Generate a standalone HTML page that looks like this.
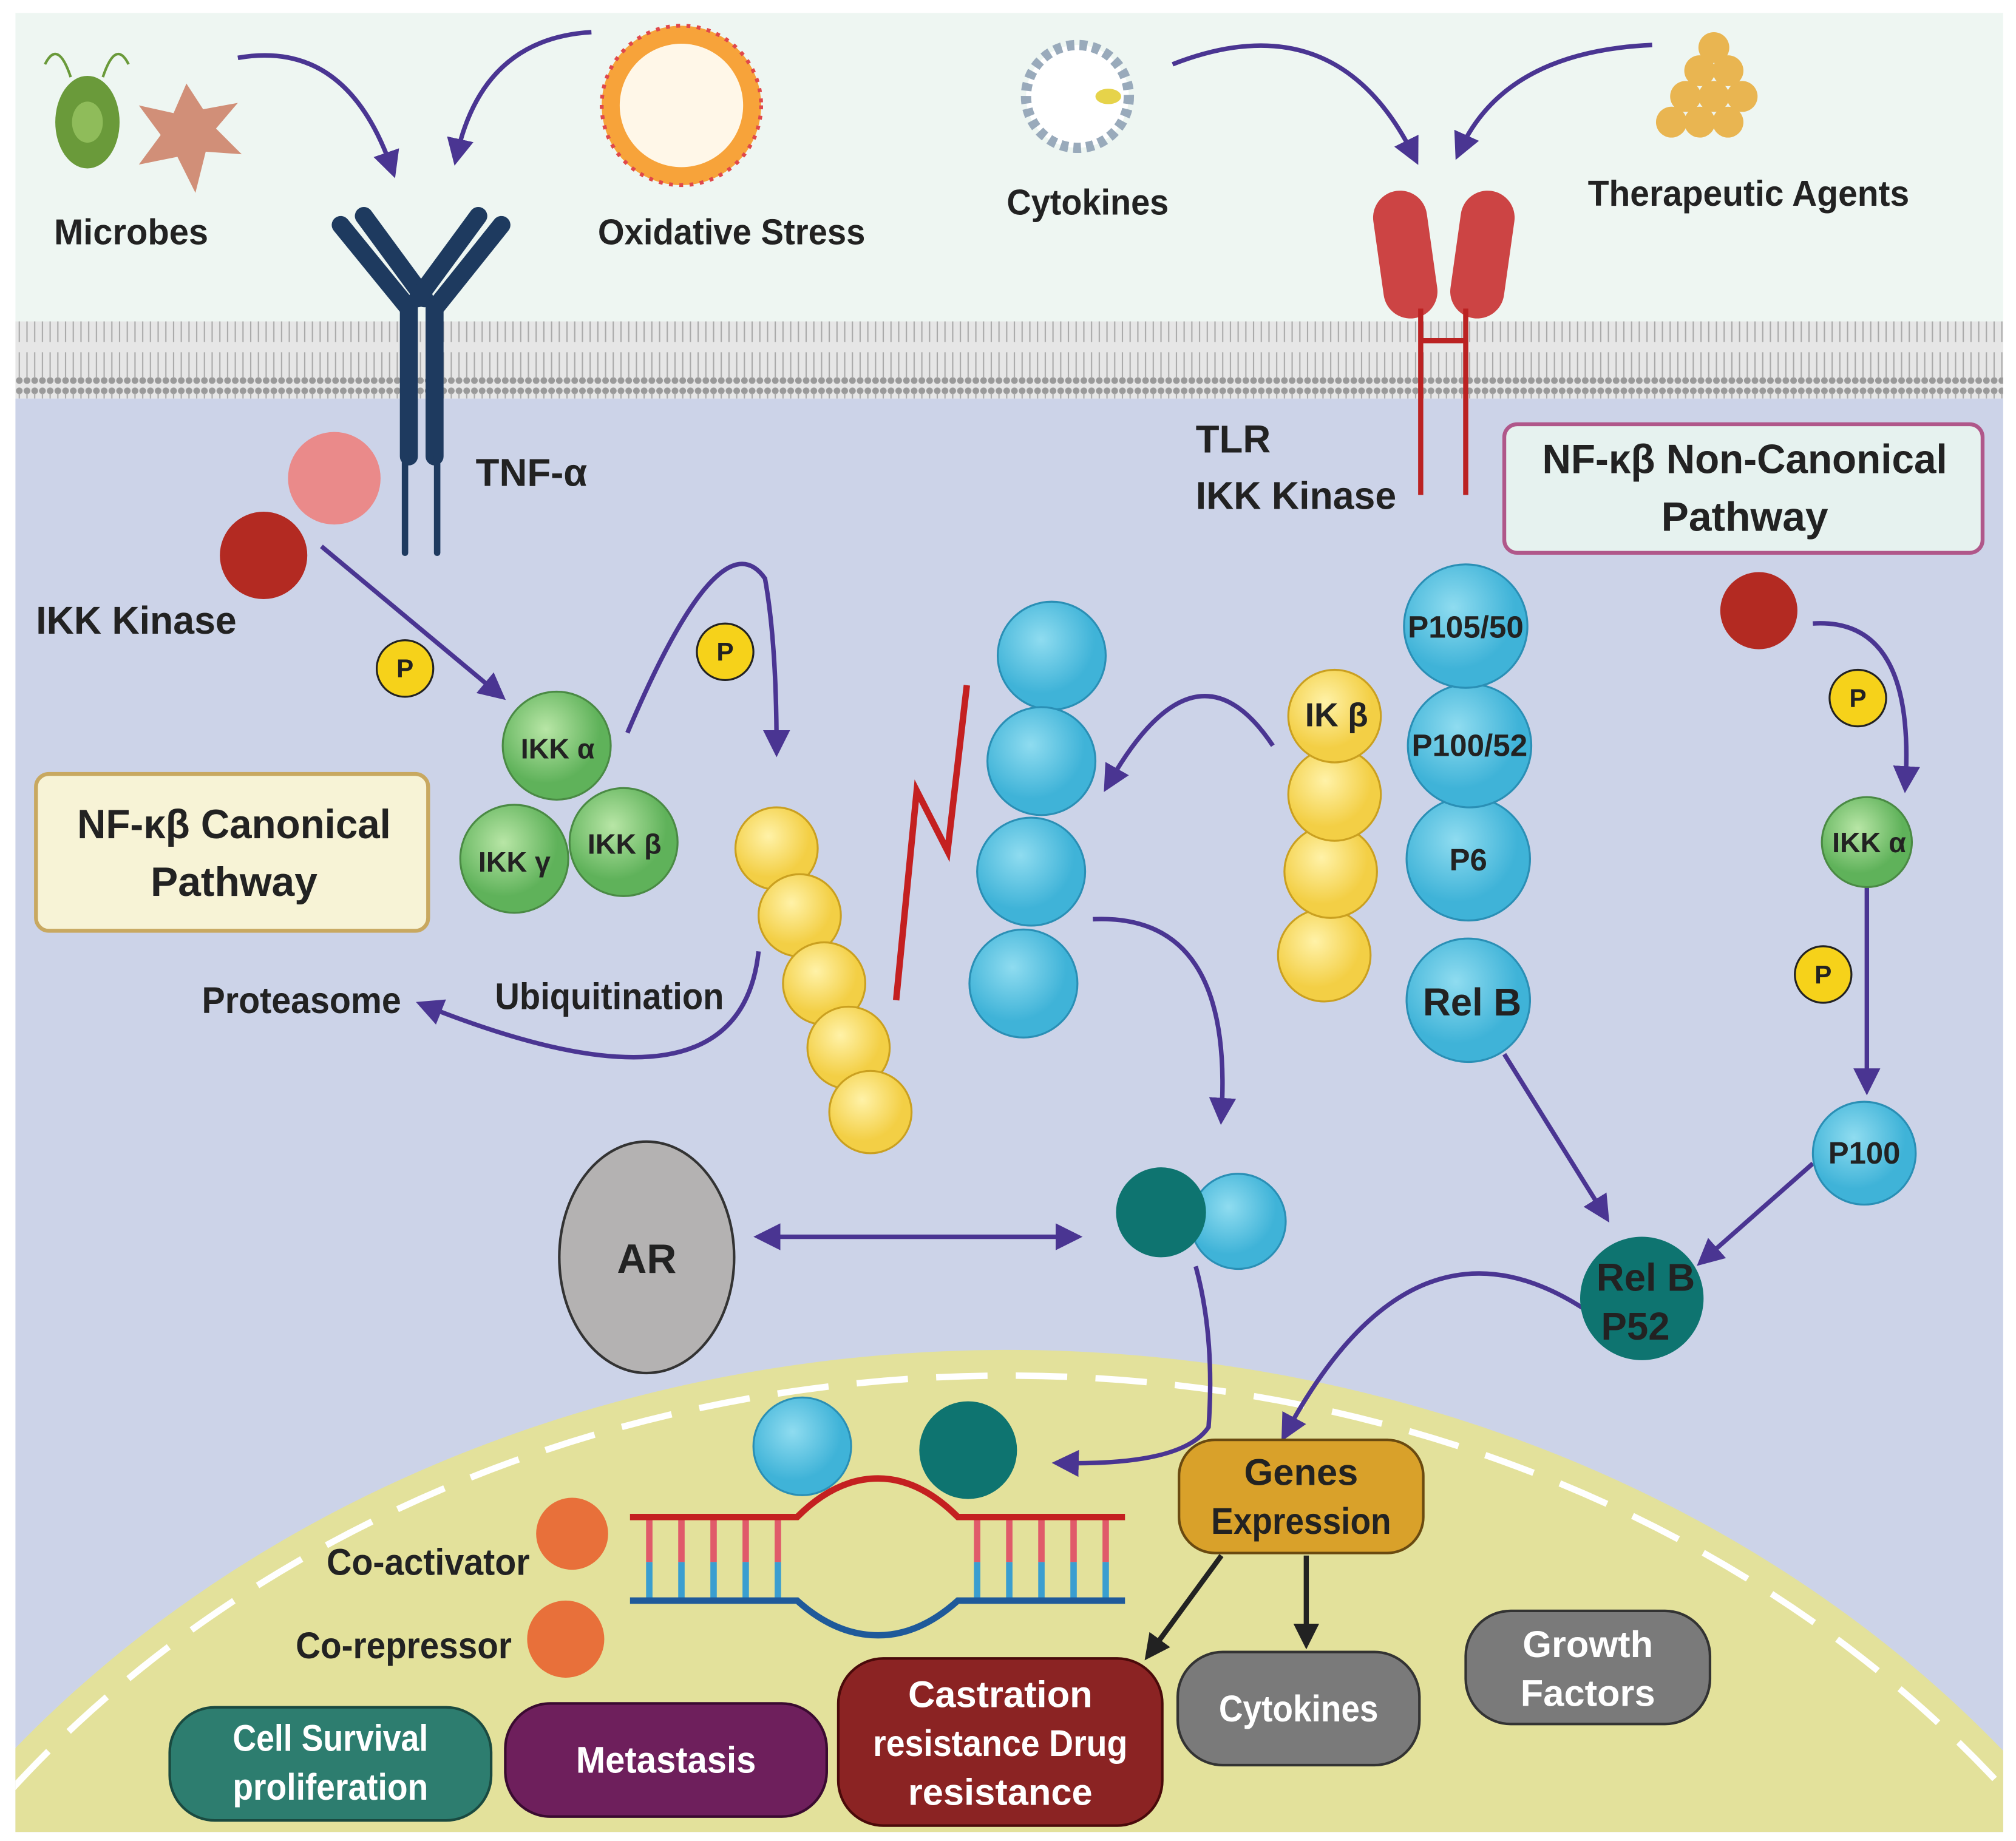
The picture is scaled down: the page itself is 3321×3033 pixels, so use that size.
<!DOCTYPE html>
<html><head><meta charset="utf-8"><style>
html,body{margin:0;padding:0;background:#fff;width:3321px;height:3033px;overflow:hidden}
svg{display:block}
text{font-family:"Liberation Sans Narrow","Liberation Sans",sans-serif;font-weight:bold;fill:#222}
</style></head><body>
<svg width="3321" height="3033" viewBox="0 0 1568 1432" preserveAspectRatio="none" xmlns="http://www.w3.org/2000/svg">
<defs>
<marker id="a" markerWidth="6" markerHeight="6" refX="4" refY="3" orient="auto" markerUnits="strokeWidth"><path d="M0,0 L6,3 L0,6 Z" fill="#4a3592"/></marker>
<marker id="b" markerWidth="5" markerHeight="5" refX="3" refY="2.5" orient="auto" markerUnits="strokeWidth"><path d="M0,0 L5,2.5 L0,5 Z" fill="#222"/></marker>
<marker id="s" markerWidth="6" markerHeight="6" refX="2" refY="3" orient="auto-start-reverse" markerUnits="strokeWidth"><path d="M0,0 L6,3 L0,6 Z" fill="#4a3592"/></marker>
<radialGradient id="gb" cx="40%" cy="35%"><stop offset="0" stop-color="#8fdcf0"/><stop offset="1" stop-color="#3fb3d8"/></radialGradient>
<radialGradient id="gy" cx="40%" cy="35%"><stop offset="0" stop-color="#fff2a8"/><stop offset="1" stop-color="#f3cf45"/></radialGradient>
<radialGradient id="gg" cx="40%" cy="35%"><stop offset="0" stop-color="#b8e6a6"/><stop offset="1" stop-color="#5fb25a"/></radialGradient>
<pattern id="mem" width="6" height="60" patternUnits="userSpaceOnUse"><rect width="6" height="60" fill="#e6e6e6"/><circle cx="3" cy="4" r="2.6" fill="#9a9a9a"/><line x1="3" y1="6" x2="3" y2="26" stroke="#aaa" stroke-width="1"/><circle cx="3" cy="56" r="2.6" fill="#9a9a9a"/><line x1="3" y1="34" x2="3" y2="54" stroke="#aaa" stroke-width="1"/></pattern>
</defs>
<rect x="0" y="0" width="1568" height="1432" fill="#fff"/>
<rect x="12" y="10" width="1546" height="245" fill="#eef6f2"/>
<rect x="12" y="250" width="1546" height="60" fill="url(#mem)"/>
<rect x="12" y="310" width="1546" height="1115" fill="#ccd3e8"/>
<clipPath id="c"><rect x="12" y="310" width="1546" height="1115"/></clipPath>
<g clip-path="url(#c)">
<ellipse cx="784" cy="1900" rx="1000" ry="850" fill="#e3e19b"/>
<ellipse cx="784" cy="1900" rx="980" ry="830" fill="none" stroke="#fff" stroke-width="5" stroke-dasharray="40 22"/>
</g>
<ellipse cx="68" cy="95" rx="25" ry="36" fill="#6a9a3a"/><ellipse cx="68" cy="95" rx="12" ry="16" fill="#8fbc5a"/>
<path d="M55,60 Q45,30 35,50 M80,60 Q90,30 100,50" stroke="#6a9a3a" stroke-width="2" fill="none"/>
<path d="M145,65 L158,85 L185,80 L168,100 L188,120 L160,118 L152,150 L138,122 L108,128 L125,105 L108,82 L135,88 Z" fill="#d18f78"/>
<text x="42" y="190" font-size="28" textLength="120" lengthAdjust="spacingAndGlyphs">Microbes</text>
<circle cx="530" cy="82" r="62" fill="#f7a33a"/><circle cx="530" cy="82" r="48" fill="#fff7e8"/>
<circle cx="530" cy="82" r="62" fill="none" stroke="#e0484a" stroke-width="3" stroke-dasharray="3 5"/>
<text x="465" y="190" font-size="28" textLength="208" lengthAdjust="spacingAndGlyphs">Oxidative Stress</text>
<circle cx="838" cy="75" r="40" fill="#fff" stroke="#9ab" stroke-width="8" stroke-dasharray="6 4"/>
<ellipse cx="862" cy="75" rx="10" ry="6" fill="#e6d34a"/>
<text x="783" y="167" font-size="28" textLength="126" lengthAdjust="spacingAndGlyphs">Cytokines</text>
<g fill="#e9b551"><circle cx="1300" cy="95" r="12"/><circle cx="1322" cy="95" r="12"/><circle cx="1344" cy="95" r="12"/><circle cx="1311" cy="75" r="12"/><circle cx="1333" cy="75" r="12"/><circle cx="1355" cy="75" r="12"/><circle cx="1322" cy="55" r="12"/><circle cx="1344" cy="55" r="12"/><circle cx="1333" cy="37" r="12"/></g>
<text x="1235" y="160" font-size="28" textLength="250" lengthAdjust="spacingAndGlyphs">Therapeutic Agents</text>
<g stroke="#4a3592" stroke-width="3.5" fill="none" marker-end="url(#a)">
<path d="M185,45 Q270,30 305,132"/><path d="M460,25 Q375,30 355,122"/>
<path d="M912,50 Q1040,0 1100,122"/><path d="M1285,35 Q1170,40 1135,118"/>
</g>
<g stroke="#1e3a5f" stroke-linecap="round" fill="none">
<path d="M265,175 L318,240 L318,355 M283,168 L330,232" stroke-width="14"/>
<path d="M390,175 L338,240 L338,355 M372,168 L325,232" stroke-width="14"/>
<path d="M315,355 L315,430 M340,355 L340,430" stroke-width="5"/>
</g>
<rect x="1072" y="148" width="42" height="100" rx="21" fill="#cc4444" transform="rotate(-8 1093 198)"/>
<rect x="1132" y="148" width="42" height="100" rx="21" fill="#cc4444" transform="rotate(8 1153 198)"/>
<g stroke="#b22" stroke-width="4"><path d="M1105,240 L1105,385 M1140,240 L1140,385 M1105,265 L1140,265"/></g>
<circle cx="260" cy="372" r="36" fill="#ea8a8a"/>
<circle cx="205" cy="432" r="34" fill="#b32a22"/>
<text x="28" y="493" font-size="30" textLength="156" lengthAdjust="spacingAndGlyphs">IKK Kinase</text>
<text x="370" y="378" font-size="30">TNF-α</text>
<text x="930" y="352" font-size="30">TLR</text>
<text x="930" y="396" font-size="30" textLength="156" lengthAdjust="spacingAndGlyphs">IKK Kinase</text>
<rect x="1170" y="330" width="372" height="100" rx="10" fill="#e6f2ef" stroke="#b0578a" stroke-width="3"/>
<text x="1357" y="368" font-size="32" text-anchor="middle" textLength="315" lengthAdjust="spacingAndGlyphs">NF-κβ Non-Canonical</text>
<text x="1357" y="413" font-size="32" text-anchor="middle">Pathway</text>
<rect x="28" y="602" width="305" height="122" rx="10" fill="#f7f3d6" stroke="#c8a860" stroke-width="3"/>
<text x="182" y="652" font-size="32" text-anchor="middle" textLength="244" lengthAdjust="spacingAndGlyphs">NF-κβ Canonical</text>
<text x="182" y="697" font-size="32" text-anchor="middle">Pathway</text>
<g stroke="#4a3592" stroke-width="3.5" fill="none" marker-end="url(#a)">
<path d="M250,425 L388,540"/>
<path d="M488,570 Q560,400 595,450 Q604,500 604,582"/>
<path d="M590,740 Q575,880 330,782"/>
<path d="M990,580 Q930,490 862,610"/>
<path d="M850,715 Q960,710 950,868"/>
<path d="M1170,820 L1248,945"/>
<path d="M1410,905 L1325,980"/>
<path d="M1410,485 Q1490,480 1482,610"/>
<path d="M1452,690 L1452,845"/>
<path d="M1235,1020 Q1100,930 1000,1115"/>
<path d="M930,985 Q945,1040 940,1110 Q920,1140 825,1138"/>
</g>
<path d="M600,962 L835,962" stroke="#4a3592" stroke-width="3.5" marker-end="url(#a)" marker-start="url(#s)"/>
<g fill="#f6d21a" stroke="#222" stroke-width="1.5">
<circle cx="315" cy="520" r="22"/><circle cx="564" cy="507" r="22"/><circle cx="1445" cy="543" r="22"/><circle cx="1418" cy="758" r="22"/>
</g>
<g font-size="20" text-anchor="middle"><text x="315" y="527">P</text><text x="564" y="514">P</text><text x="1445" y="550">P</text><text x="1418" y="765">P</text></g>
<g fill="url(#gg)" stroke="#4a8a44" stroke-width="1.5">
<circle cx="433" cy="580" r="42"/><circle cx="400" cy="668" r="42"/><circle cx="485" cy="655" r="42"/><circle cx="1452" cy="655" r="35"/>
</g>
<g font-size="22"><text x="405" y="590">IKK α</text><text x="372" y="678">IKK γ</text><text x="457" y="664">IKK β</text><text x="1425" y="663">IKK α</text></g>
<g fill="url(#gy)" stroke="#caa020" stroke-width="1.5">
<circle cx="604" cy="660" r="32"/><circle cx="622" cy="712" r="32"/><circle cx="641" cy="765" r="32"/><circle cx="660" cy="815" r="32"/><circle cx="677" cy="865" r="32"/>
<circle cx="1030" cy="743" r="36"/><circle cx="1035" cy="678" r="36"/><circle cx="1038" cy="618" r="36"/><circle cx="1038" cy="557" r="36"/>
</g>
<text x="1015" y="565" font-size="26">IK β</text>
<polyline points="697,778 713,615 737,662 752,533" fill="none" stroke="#c42020" stroke-width="5"/>
<g fill="url(#gb)" stroke="#2a8fb5" stroke-width="1.5">
<circle cx="818" cy="510" r="42"/><circle cx="810" cy="592" r="42"/><circle cx="802" cy="678" r="42"/><circle cx="796" cy="765" r="42"/>
<circle cx="1142" cy="778" r="48"/><circle cx="1142" cy="668" r="48"/><circle cx="1143" cy="580" r="48"/><circle cx="1140" cy="487" r="48"/>
<circle cx="1450" cy="897" r="40"/><circle cx="963" cy="950" r="37"/><circle cx="624" cy="1125" r="38"/>
</g>
<g font-size="24" text-anchor="middle"><text x="1140" y="496" textLength="90" lengthAdjust="spacingAndGlyphs">P105/50</text><text x="1143" y="588" textLength="90" lengthAdjust="spacingAndGlyphs">P100/52</text><text x="1142" y="677">P6</text><text x="1145" y="790" font-size="30">Rel B</text><text x="1450" y="905">P100</text></g>
<circle cx="1368" cy="475" r="30" fill="#b32a22"/>
<circle cx="1277" cy="1010" r="48" fill="#0e7470"/>
<text x="1280" y="1004" font-size="30" text-anchor="middle">Rel B</text><text x="1272" y="1042" font-size="30" text-anchor="middle">P52</text>
<circle cx="903" cy="943" r="35" fill="#0e7470"/>
<circle cx="753" cy="1128" r="38" fill="#0e7470"/>
<ellipse cx="503" cy="978" rx="68" ry="90" fill="#b4b2b2" stroke="#333" stroke-width="2"/>
<text x="503" y="990" font-size="32" text-anchor="middle">AR</text>
<text x="157" y="788" font-size="29" textLength="155" lengthAdjust="spacingAndGlyphs">Proteasome</text>
<text x="385" y="785" font-size="29" textLength="178" lengthAdjust="spacingAndGlyphs">Ubiquitination</text>
<g stroke-width="5">
<g stroke="#e05a6a"><path d="M505,1180 V1215 M530,1180 V1215 M555,1180 V1215 M580,1180 V1215 M605,1180 V1215 M760,1180 V1215 M785,1180 V1215 M810,1180 V1215 M835,1180 V1215 M860,1180 V1215"/></g>
<g stroke="#3a9ed0"><path d="M505,1215 V1245 M530,1215 V1245 M555,1215 V1245 M580,1215 V1245 M605,1215 V1245 M760,1215 V1245 M785,1215 V1245 M810,1215 V1245 M835,1215 V1245 M860,1215 V1245"/></g>
<path d="M490,1180 L620,1180 Q650,1150 683,1150 Q715,1150 745,1180 L875,1180" stroke="#c42020" fill="none"/>
<path d="M490,1245 L620,1245 Q650,1272 683,1272 Q715,1272 745,1245 L875,1245" stroke="#1f5a9a" fill="none"/>
</g>
<circle cx="445" cy="1193" r="28" fill="#e8703a"/><circle cx="440" cy="1275" r="30" fill="#e8703a"/>
<text x="412" y="1225" font-size="29" text-anchor="end" textLength="158" lengthAdjust="spacingAndGlyphs">Co-activator</text>
<text x="398" y="1290" font-size="29" text-anchor="end" textLength="168" lengthAdjust="spacingAndGlyphs">Co-repressor</text>
<rect x="917" y="1120" width="190" height="88" rx="28" fill="#d9a12a" stroke="#6a4a10" stroke-width="2"/>
<text x="1012" y="1155" font-size="29" text-anchor="middle">Genes</text><text x="1012" y="1193" font-size="29" text-anchor="middle" textLength="140" lengthAdjust="spacingAndGlyphs">Expression</text>
<g stroke="#222" stroke-width="4" marker-end="url(#b)"><path d="M950,1210 L895,1285"/><path d="M1016,1210 L1016,1275"/></g>
<rect x="132" y="1328" width="250" height="88" rx="35" fill="#2d7d6f" stroke="#1a4a40" stroke-width="2"/>
<rect x="393" y="1325" width="250" height="88" rx="35" fill="#6e1f5c" stroke="#3a0a30" stroke-width="2"/>
<rect x="652" y="1290" width="252" height="130" rx="35" fill="#8b2323" stroke="#4a0a0a" stroke-width="2"/>
<rect x="916" y="1285" width="188" height="88" rx="35" fill="#7a7a7a" stroke="#333" stroke-width="2"/>
<rect x="1140" y="1253" width="190" height="88" rx="35" fill="#7a7a7a" stroke="#333" stroke-width="2"/>
<g font-size="29" text-anchor="middle">
<text x="257" y="1362" style="fill:#fff" textLength="152" lengthAdjust="spacingAndGlyphs">Cell Survival</text><text x="257" y="1400" style="fill:#fff" textLength="152" lengthAdjust="spacingAndGlyphs">proliferation</text>
<text x="518" y="1379" style="fill:#fff" textLength="140" lengthAdjust="spacingAndGlyphs">Metastasis</text>
<text x="778" y="1328" style="fill:#fff">Castration</text><text x="778" y="1366" style="fill:#fff" textLength="198" lengthAdjust="spacingAndGlyphs">resistance Drug</text><text x="778" y="1404" style="fill:#fff">resistance</text>
<text x="1010" y="1339" style="fill:#fff" textLength="124" lengthAdjust="spacingAndGlyphs">Cytokines</text>
<text x="1235" y="1289" style="fill:#fff">Growth</text><text x="1235" y="1327" style="fill:#fff">Factors</text>
</g>
</svg>
</body></html>
